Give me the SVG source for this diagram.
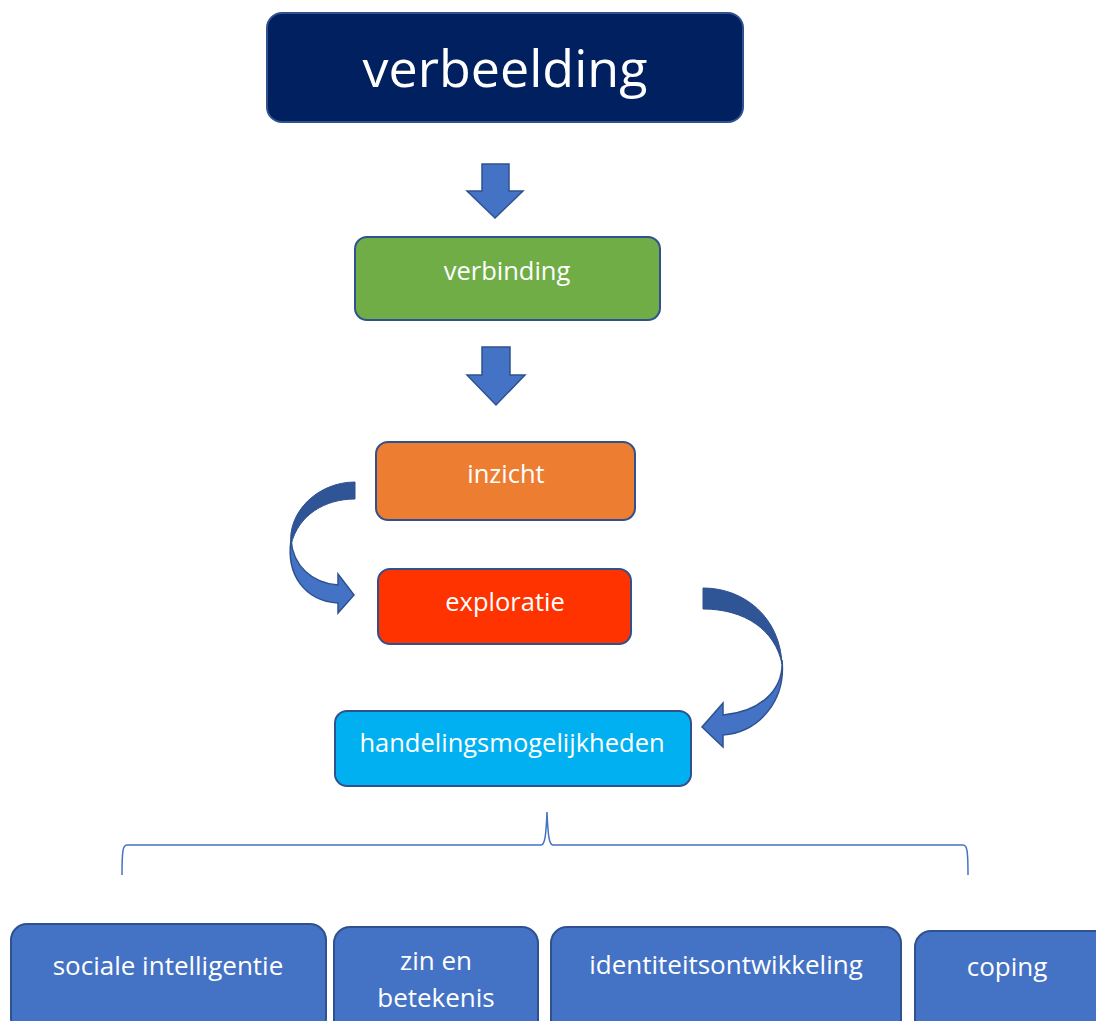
<svg xmlns="http://www.w3.org/2000/svg" width="1096" height="1021" viewBox="0 0 1096 1021">
<style>
.box{stroke:#2F528F;stroke-width:2}
.t{font-family:"Open Sans","Noto Sans",sans-serif;fill:#ffffff;text-anchor:middle}
.arr{fill:#4472C4;stroke:#2F528F;stroke-width:1.5}
.dark{fill:#2F5597;stroke:#2F528F;stroke-width:1}
.light{fill:#4472C4;stroke:#2F528F;stroke-width:1.5}
</style>
<rect width="1096" height="1021" fill="#ffffff"/>
<g id="verbeelding">
<rect class="box" x="267" y="13" width="476" height="109" rx="15" fill="#002060" stroke="#4A6AA8"/>
<text class="t" x="505" y="87" font-size="52">verbeelding</text>
</g>
<g id="verbinding">
<rect class="box" x="355" y="237" width="305" height="83" rx="12" fill="#70AD47"/>
<text class="t" x="507" y="280" font-size="25.5">verbinding</text>
</g>
<g id="inzicht">
<rect class="box" x="376" y="442" width="259" height="78" rx="12" fill="#ED7D31"/>
<text class="t" x="506" y="483" font-size="25.5">inzicht</text>
</g>
<g id="exploratie">
<rect class="box" x="378" y="569" width="253" height="75" rx="12" fill="#FF3300"/>
<text class="t" x="505" y="611" font-size="25.5">exploratie</text>
</g>
<g id="handelingsmogelijkheden">
<rect class="box" x="335" y="711" width="356" height="75" rx="12" fill="#00B0F0"/>
<text class="t" x="512" y="752" font-size="25.5">handelingsmogelijkheden</text>
</g>
<g id="sociale-intelligentie">
<rect class="box" x="11" y="924" width="315" height="110" rx="16" fill="#4472C4"/>
<text class="t" x="168" y="975" font-size="26">sociale intelligentie</text>
</g>
<g id="zin-en-betekenis">
<rect class="box" x="334" y="927" width="204" height="110" rx="16" fill="#4472C4"/>
<text class="t" x="436" y="970" font-size="26">zin en</text>
<text class="t" x="436" y="1007" font-size="26">betekenis</text>
</g>
<g id="identiteitsontwikkeling">
<rect class="box" x="551" y="927" width="350" height="110" rx="16" fill="#4472C4"/>
<text class="t" x="726" y="974" font-size="26">identiteitsontwikkeling</text>
</g>
<g id="coping">
<rect class="box" x="915" y="931" width="200" height="110" rx="16" fill="#4472C4"/>
<text class="t" x="1007" y="976" font-size="26">coping</text>
</g>
<g id="connectors">
<polygon class="arr" points="482,164 509,164 509,191 523,191 495,218 467,191 482,191"/>
<polygon class="arr" points="482,347 510,347 510,375 525,375 496,405 467,375 482,375"/>
<path class="dark" d="M355,482 L355,499 C325,499 298,515 291,545 C287,512 318,482 355,482 Z"/>
<path class="light" d="M291,540 C293,566 312,583 338,585 L338,574 L354,595 L338,613 L338,603 C305,601 286,575 291,540 Z"/>
<path class="dark" d="M703,588 C745,588 780,618 782,664 C775,630 745,609 703,609 Z"/>
<path class="light" d="M782,660 C784,690 760,712 723,715 L723,703 L702,727 L723,747 L723,735 C760,732 786,700 782,660 Z"/>
<path d="M122,875 C122,850 123,845 127,845 L541,845 C545,845 546,835 547,812 C548,835 549,845 553,845 L963,845 C967,845 968,850 968,875" fill="none" stroke="#4472C4" stroke-width="1.5"/>
</g>
</svg>
